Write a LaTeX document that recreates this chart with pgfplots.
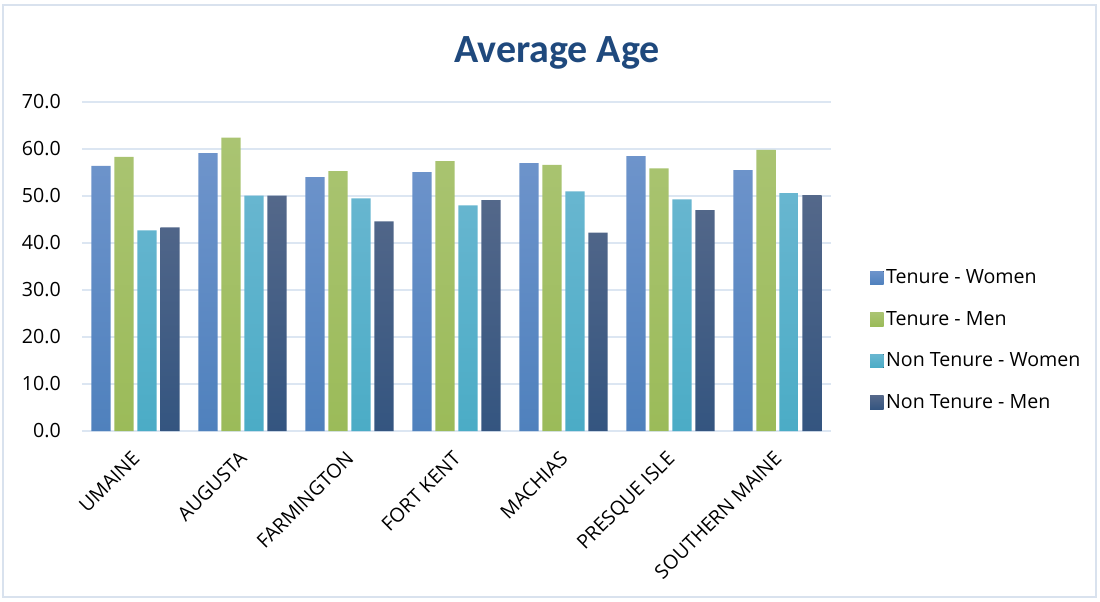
\documentclass[border=0pt]{standalone}
\usepackage{fontspec}
\setmainfont{Open Sans}
\newfontfamily\titlefont{Carlito}
\usepackage{pgfplots}
\usepackage{pgfplotstable}
\pgfplotsset{compat=1.18}
\definecolor{twt}{RGB}{110,148,203}
\definecolor{twb}{RGB}{79,129,189}
\definecolor{tmt}{RGB}{170,196,114}
\definecolor{tmb}{RGB}{155,187,89}
\definecolor{ntwt}{RGB}{104,182,208}
\definecolor{ntwb}{RGB}{75,172,198}
\definecolor{ntmt}{RGB}{84,104,138}
\definecolor{ntmb}{RGB}{52,85,128}
\definecolor{gridc}{RGB}{220,230,242}
\definecolor{bordc}{RGB}{217,226,238}
\definecolor{titlec}{RGB}{31,73,125}
\pgfplotstableread{
x tw tm ntw ntm
0 56.4 58.3 42.7 43.3
1 59.1 62.4 50.1 50.1
2 54.0 55.3 49.5 44.6
3 55.1 57.4 48.0 49.1
4 57.0 56.6 51.0 42.2
5 58.5 55.9 49.3 47.0
6 55.5 59.8 50.6 50.2
}\datatable
\begin{document}
\begin{tikzpicture}
\useasboundingbox (-61.5pt,-127.5pt) rectangle (763.5pt,323.25pt);
\draw[bordc, line width=1pt] (-59.25pt,-124.5pt) rectangle (760.5pt,319.5pt);
\begin{axis}[
  scale only axis,
  width=561.75pt, height=246.75pt,
  ymin=0, ymax=70, ytick={0,10,...,70},
  xmin=-0.5, xmax=6.5, xtick={0,...,6},
  xticklabels={UMAINE,AUGUSTA,FARMINGTON,FORT KENT,MACHIAS,PRESQUE ISLE,SOUTHERN MAINE},
  axis line style={draw=none},
  major tick length=0pt,
  ymajorgrids, grid style={gridc, line width=1.2pt},
  ybar=2.65pt, bar width=14.6pt,
  yticklabel style={/pgf/number format/.cd, fixed, fixed zerofill, precision=1, assume math mode=true, /tikz/.cd, font=\fontsize{14.7}{17}\selectfont, inner sep=0pt, xshift=-15.75pt},
  xticklabel style={font=\fontsize{14.7}{17}\selectfont, xshift=-3.5pt, yshift=-14pt, rotate=45, anchor=north east, inner sep=0pt},
  legend style={at={(rel axis cs:1.052,0.499)}, anchor=north west, draw=none, fill=none, font=\fontsize{14.7}{17}\selectfont, row sep=15.2pt, inner sep=0pt, cells={anchor=west}},
  legend image code/.code={\fill[#1] (0pt,-5pt) rectangle (10pt,5pt);},
]
\addplot[draw=none, top color=twt, bottom color=twb] table[x=x,y=tw] {\datatable};
\addplot[draw=none, top color=tmt, bottom color=tmb] table[x=x,y=tm] {\datatable};
\addplot[draw=none, top color=ntwt, bottom color=ntwb] table[x=x,y=ntw] {\datatable};
\addplot[draw=none, top color=ntmt, bottom color=ntmb] table[x=x,y=ntm] {\datatable};
\legend{Tenure - Women, Tenure - Men, Non Tenure - Women, Non Tenure - Men}
\end{axis}
\node[font=\titlefont\fontsize{30}{35}\selectfont\bfseries, text=titlec] at (356.25pt,283.5pt) {Average Age};
\end{tikzpicture}
\end{document}
